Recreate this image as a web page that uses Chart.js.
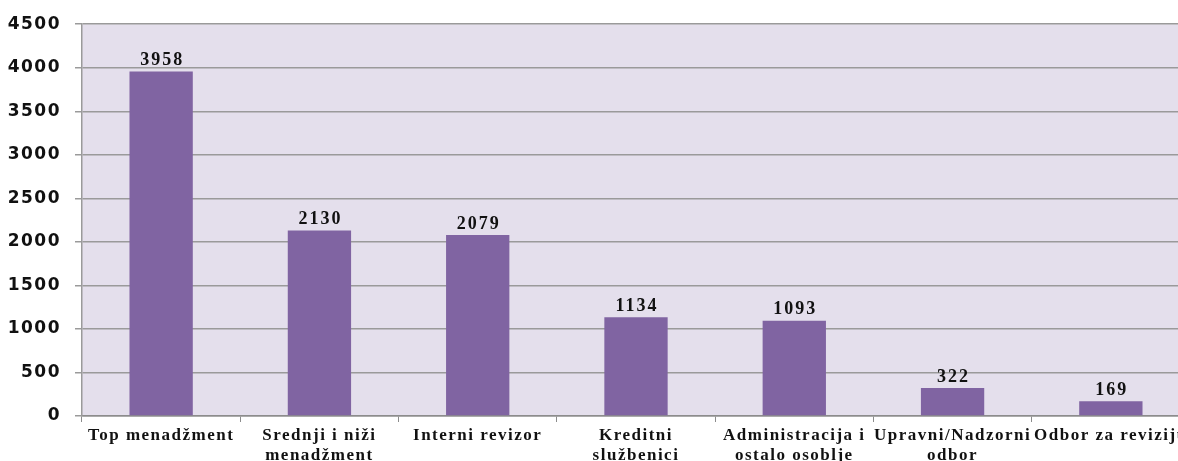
<!DOCTYPE html>
<html>
<head>
<meta charset="utf-8">
<script src="https://cdn.jsdelivr.net/npm/chart.js@4.4.0/dist/chart.umd.min.js"></script>
<style>
  html, body { margin: 0; padding: 0; background: #fff; overflow: hidden; }
  #wrap { width: 1190px; height: 461px; }
</style>
</head>
<body>
<div id="wrap"><canvas id="chart"></canvas></div>
<script>
var categories = [
  "Top menadžment",
  ["Srednji i niži", "menadžment"],
  "Interni revizor",
  ["Kreditni", "službenici"],
  ["Administracija i", "ostalo osoblje"],
  ["Upravni/Nadzorni", "odbor"],
  "Odbor za reviziju"
];
var values = [3958, 2130, 2079, 1134, 1093, 322, 169];
var yTicks = [0, 500, 1000, 1500, 2000, 2500, 3000, 3500, 4000, 4500];

// lavender plot background, wider letters for the axis text
var bgPlugin = {
  id: 'bg',
  beforeDraw: function(chart) {
    var a = chart.chartArea, ctx = chart.ctx;
    ctx.letterSpacing = '1.5px';
    ctx.save();
    ctx.fillStyle = '#e4dfec';
    ctx.fillRect(a.left, a.top, a.right - a.left, a.bottom - a.top);
    ctx.restore();
  }
};

// value labels above bars
var labelPlugin = {
  id: 'vals',
  afterDatasetsDraw: function(chart) {
    var ctx = chart.ctx;
    var meta = chart.getDatasetMeta(0);
    ctx.save();
    ctx.font = 'bold 18px "Liberation Serif"';
    ctx.letterSpacing = '2px';
    ctx.fillStyle = '#111';
    ctx.textAlign = 'center';
    ctx.textBaseline = 'bottom';
    meta.data.forEach(function(bar, i) {
      ctx.fillText(values[i], bar.x + 1, bar.y - 2);
    });
    ctx.restore();
  }
};

new Chart(document.getElementById('chart'), {
  type: 'bar',
  data: {
    labels: categories,
    datasets: [{
      data: values,
      backgroundColor: '#8064a2',
      categoryPercentage: 1,
      barPercentage: 0.4
    }]
  },
  options: {
    responsive: true,
    maintainAspectRatio: false,
    animation: false,
    layout: { padding: { top: 19, left: 0, right: 0, bottom: 0 } },
    plugins: {
      legend: { display: false },
      tooltip: { enabled: false }
    },
    scales: {
      x: {
        grid: {
          offset: true,
          drawOnChartArea: false,
          color: '#8c8c8c',
          tickLength: 6
        },
        border: { color: '#8c8c8c', width: 1.5 },
        ticks: {
          color: '#111',
          font: { family: '"Liberation Serif"', weight: 'bold', size: 17, lineHeight: 1.2 },
          maxRotation: 0,
          autoSkip: false,
          padding: 3
        },
        afterFit: function(s) { s.height = 45; }
      },
      y: {
        min: 0,
        max: 4500,
        afterBuildTicks: function(s) { s.ticks = yTicks.map(function(v) { return { value: v }; }); },
        grid: { color: '#9a9a9a', lineWidth: 1.5, tickLength: 7 },
        border: { color: '#9a9a9a', width: 1.5 },
        ticks: {
          color: '#111',
          font: { family: '"DejaVu Sans"', weight: 'bold', size: 17 },
          padding: 14,
          callback: function(v) { return String(v); }
        },
        afterFit: function(s) { s.width = 82; }
      }
    }
  },
  plugins: [bgPlugin, labelPlugin]
});
</script>
</body>
</html>
